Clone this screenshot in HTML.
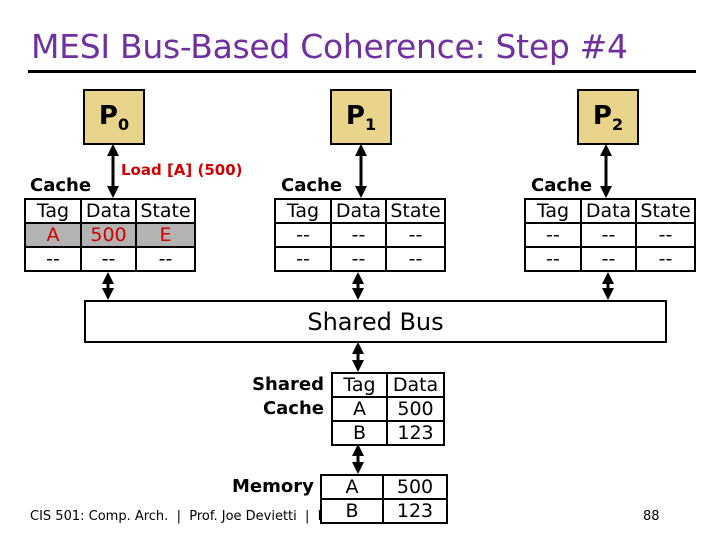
<!DOCTYPE html>
<html><head><style>
body{margin:0;width:720px;height:540px;background:#fff;position:relative;overflow:hidden;font-family:"DejaVu Sans","Liberation Sans",sans-serif}
.a{position:absolute}
.p{position:absolute;background:#E8D48B;border:2px solid #000;box-sizing:border-box;width:62px;height:56px;font-weight:bold;font-size:26px;text-align:center;line-height:50px}
.p sub{font-size:16px}
table{position:absolute;border-collapse:collapse;background:#fff}
td{border:2px solid #000;padding:0;text-align:center;font-size:19px;height:22px;line-height:22px}
.lbl{position:absolute;font-weight:bold;font-size:18px}
</style></head><body>
<div class="a" style="left:31px;top:27px;font-size:33px;color:#7030A0;font-family:'DejaVu Sans',sans-serif;letter-spacing:-0.3px">MESI Bus-Based Coherence: Step #4</div>
<div class="a" style="left:28px;top:70px;width:668px;height:3px;background:#000"></div>

<div class="p" style="left:83px;top:89px">P<sub>0</sub></div>
<div class="p" style="left:330px;top:89px">P<sub>1</sub></div>
<div class="p" style="left:577px;top:89px">P<sub>2</sub></div>

<div class="a" style="left:121px;top:161px;color:#d00000;font-weight:bold;font-size:15px">Load [A] (500)</div>
<div class="lbl" style="left:30px;top:175px">Cache</div>
<div class="lbl" style="left:281px;top:175px">Cache</div>
<div class="lbl" style="left:531px;top:175px">Cache</div>

<table style="left:24px;top:198px;width:172px"><tr><td style="width:54px">Tag</td><td style="width:53px">Data</td><td>State</td></tr>
<tr style="background:#b3b3b3;color:#d00000"><td>A</td><td>500</td><td>E</td></tr><tr><td>--</td><td>--</td><td>--</td></tr></table>
<table style="left:274px;top:198px;width:172px"><tr><td style="width:54px">Tag</td><td style="width:53px">Data</td><td>State</td></tr>
<tr><td>--</td><td>--</td><td>--</td></tr><tr><td>--</td><td>--</td><td>--</td></tr></table>
<table style="left:524px;top:198px;width:172px"><tr><td style="width:54px">Tag</td><td style="width:53px">Data</td><td>State</td></tr>
<tr><td>--</td><td>--</td><td>--</td></tr><tr><td>--</td><td>--</td><td>--</td></tr></table>

<div class="a" style="left:84px;top:300px;width:583px;height:43px;border:2px solid #000;box-sizing:border-box;font-size:24px;text-align:center;line-height:40px">Shared Bus</div>

<div class="lbl" style="left:250px;top:373px;text-align:right;width:74px;line-height:24px">Shared<br>Cache</div>
<table style="left:331px;top:372px;width:114px"><tr><td style="width:53px">Tag</td><td>Data</td></tr><tr><td>A</td><td>500</td></tr><tr><td>B</td><td>123</td></tr></table>

<div class="a" style="left:30px;top:509px;font-size:13px">CIS 501: Comp. Arch. &nbsp;| &nbsp;Prof. Joe Devietti &nbsp;| &nbsp;Multicore</div>
<div class="a" style="left:643px;top:509px;font-size:13px">88</div>
<div class="lbl" style="left:232px;top:476px">Memory</div>
<table style="left:320px;top:474px;width:128px"><tr><td style="width:60px">A</td><td>500</td></tr><tr><td>B</td><td>123</td></tr></table>

<svg class="a" style="left:0;top:0" width="720" height="540">
<defs><marker id="h" markerWidth="4" markerHeight="4" refX="2" refY="2" orient="auto-start-reverse" markerUnits="strokeWidth"><path d="M0,0L4,2L0,4z"/></marker></defs>
<g stroke="#000" stroke-width="3" marker-start="url(#h)" marker-end="url(#h)">
<line x1="113" y1="150" x2="113" y2="192"/>
<line x1="361" y1="150" x2="361" y2="192"/>
<line x1="606" y1="150" x2="606" y2="192"/>
<line x1="108" y1="278" x2="108" y2="294"/>
<line x1="358" y1="278" x2="358" y2="294"/>
<line x1="608" y1="278" x2="608" y2="294"/>
<line x1="358" y1="348" x2="358" y2="366"/>
<line x1="358" y1="450" x2="358" y2="468"/>
</g></svg>
</body></html>
